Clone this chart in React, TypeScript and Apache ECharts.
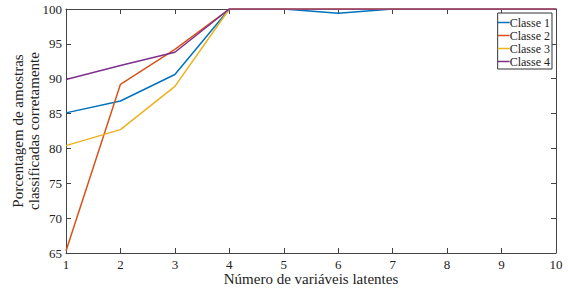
import React, { useEffect, useRef } from "react";
import * as echarts from "echarts";

const xValues = [1, 2, 3, 4, 5, 6, 7, 8, 9, 10];
const seriesNames = ["Classe 1", "Classe 2", "Classe 3", "Classe 4"];
const classe1 = [85.1, 86.8, 90.6, 100, 100, 99.4, 100, 100, 100, 100];
const classe2 = [65.3, 89.2, 94.2, 100, 100, 100, 100, 100, 100, 100];
const classe3 = [80.4, 82.7, 88.9, 100, 100, 100, 100, 100, 100, 100];
const classe4 = [89.9, 91.9, 93.8, 100, 100, 100, 100, 100, 100, 100];
const colors = ["#0072BD", "#D95319", "#EDB120", "#7E2F8E"];

const FONT = "Liberation Serif";

export default function App() {
  const ref = useRef<HTMLDivElement>(null);
  useEffect(() => {
    if (!ref.current) return;
    const chart = echarts.init(ref.current, null, { renderer: "svg" });
    const allData = [classe1, classe2, classe3, classe4];
    const axisLine = { show: true, lineStyle: { color: "#444", width: 1 } };
    chart.setOption({
      animation: false,
      color: colors,
      grid: { left: 66, right: 17, top: 9, bottom: 36, containLabel: false, outerBoundsMode: "none" },
      legend: {
        data: seriesNames,
        orient: "vertical",
        right: 21,
        top: 13,
        icon: "rect",
        itemWidth: 12,
        itemHeight: 1.5,
        itemGap: 0,
        padding: [3, 2, 1, 0],
        borderColor: "#333",
        borderWidth: 1,
        backgroundColor: "#fff",
        textStyle: { fontFamily: FONT, fontSize: 12, lineHeight: 13, color: "#222", padding: [0, 0, 0, -5] },
      },
      xAxis: [
        {
          type: "value",
          min: 1,
          max: 10,
          interval: 1,
          position: "bottom",
          axisLine,
          axisTick: { show: true, inside: true, length: 5, lineStyle: { color: "#444" } },
          axisLabel: { fontFamily: FONT, fontSize: 13, color: "#222", margin: 5 },
          splitLine: { show: false },
          name: "Número de variáveis latentes",
          nameLocation: "middle",
          nameGap: 18,
          nameMoveOverlap: false,
          nameTextStyle: { fontFamily: FONT, fontSize: 15, color: "#222", lineHeight: 15 },
        },
        {
          type: "value",
          min: 1,
          max: 10,
          interval: 1,
          position: "top",
          axisLine,
          axisTick: { show: true, inside: true, length: 5, lineStyle: { color: "#444" } },
          axisLabel: { show: false },
          splitLine: { show: false },
        },
      ],
      yAxis: [
        {
          type: "value",
          min: 65,
          max: 100,
          interval: 5,
          position: "left",
          axisLine,
          axisTick: { show: true, inside: true, length: 5, lineStyle: { color: "#444" } },
          axisLabel: { fontFamily: FONT, fontSize: 13, color: "#222", margin: 4 },
          splitLine: { show: false },
          name: "Porcentagem de amostras\nclassificadas corretamente",
          nameLocation: "middle",
          nameGap: 24,
          nameMoveOverlap: false,
          nameTextStyle: { fontFamily: FONT, fontSize: 15, color: "#222", lineHeight: 16 },
        },
        {
          type: "value",
          min: 65,
          max: 100,
          interval: 5,
          position: "right",
          axisLine,
          axisTick: { show: true, inside: true, length: 5, lineStyle: { color: "#444" } },
          axisLabel: { show: false },
          splitLine: { show: false },
        },
      ],
      series: seriesNames.map((name, i) => ({
        name,
        type: "line",
        xAxisIndex: 0,
        yAxisIndex: 0,
        data: xValues.map((x, j) => [x, allData[i][j]]),
        showSymbol: false,
        symbol: "none",
        lineStyle: { width: 1.5, color: colors[i] },
        itemStyle: { color: colors[i] },
        z: 2 + i,
      })),
    });
    return () => chart.dispose();
  }, []);
  return <div ref={ref} style={{ width: 573, height: 289, position: "absolute", left: 0, top: 0 }} />;
}
